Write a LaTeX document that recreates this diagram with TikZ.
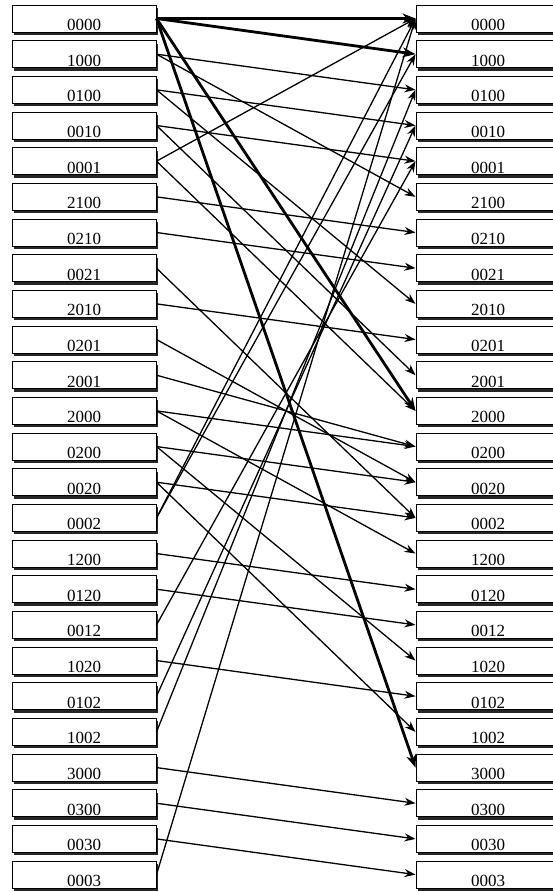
\documentclass[tikz,border=0pt]{standalone}
\usepackage{fontspec}
\setmainfont{Liberation Serif}
\usetikzlibrary{arrows.meta,shadows}

\begin{document}
\begin{tikzpicture}[x=1pt,y=-1pt,
    statebox/.style={draw,line width=1pt,fill=white,minimum width=144pt,
      inner xsep=0pt,inner ysep=0pt,text height=25.5pt,text depth=1.5pt,
      font=\fontsize{17}{17}\selectfont,
      drop shadow={shadow xshift=1.8pt,shadow yshift=-3pt,opacity=1,fill=black!85}},
    trans/.style={-{Stealth[length=11pt,width=8pt]},line width=1.3pt},
    heavy/.style={trans,line width=2.8pt,-{Stealth[length=13pt,width=10pt]}}]
  \useasboundingbox (0,0) rectangle (553,892);
  \clip (0,0) rectangle (553,892);

  % states, left column = now, right column = next step
  \foreach \s [count=\i from 0] in {0000,1000,0100,0010,0001,2100,0210,0021,2010,0201,2001,
      2000,0200,0020,0002,1200,0120,0012,1020,0102,1002,3000,0300,0030,0003} {
    \node[statebox] (l\s) at (84,{18.5+35.67*\i}) {\s};
    \node[statebox] (r\s) at (488,{18.5+35.67*\i}) {\s};
  }

  % from the empty state
  \draw [heavy] (l0000.east) -- (r0000.west);
  \draw [heavy] (l0000.east) -- (r1000.west);
  \draw [heavy] (l0000.east) -- (r2000.west);
  \draw [heavy] (l0000.east) -- (r3000.west);

  % all other transitions
  \foreach \a/\b in {1000/0100,1000/2100,0100/0010,0100/2010,0010/0001,0010/2001,
      0001/0000,0001/2000,2100/0210,0210/0021,0021/0002,2010/0201,0201/0020,2001/0200,
      2000/0200,2000/1200,0200/0020,0200/1020,0020/0002,0020/1002,0002/0000,0002/1000,
      1200/0120,0120/0012,0012/0001,1020/0102,0102/0010,1002/0100,
      3000/0300,0300/0030,0030/0003,0003/0000}
    \draw [trans] (l\a.east) -- (r\b.west);
\end{tikzpicture}
\end{document}
